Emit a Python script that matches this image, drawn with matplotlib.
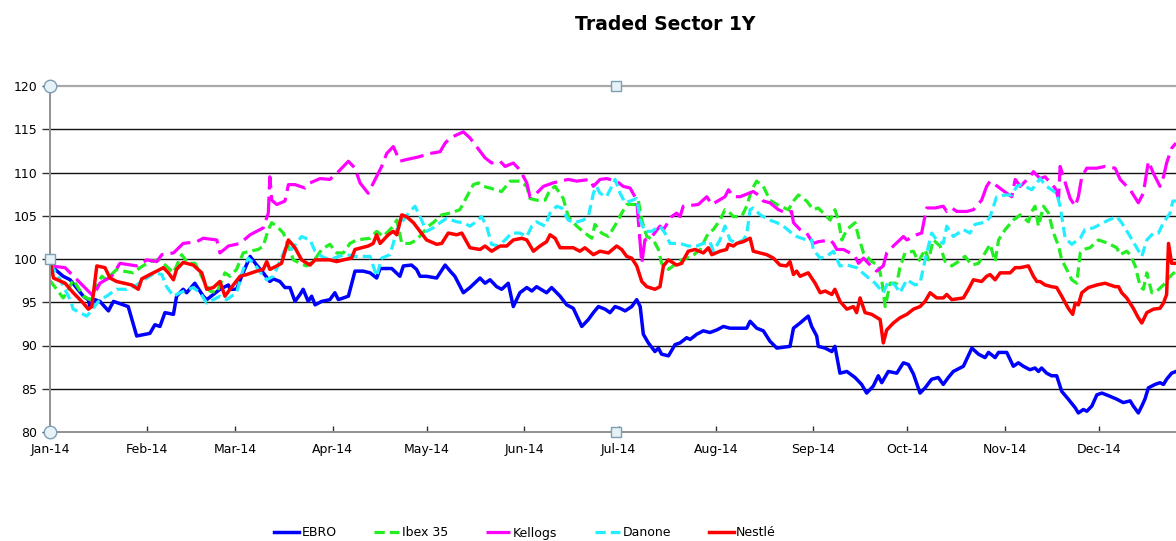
import datetime
import numpy as np
import matplotlib
matplotlib.use("Agg")
import matplotlib.pyplot as plt
import matplotlib.dates as mdates

title = "Traded Sector 1Y"
series_names = ["EBRO", "Ibex 35", "Kellogs", "Danone", "Nestlé"]

ebro_days = [0.0, 4.2, 6.4, 10.6, 12.2, 12.7, 14.3, 15.9, 18.6, 20.2, 21.8, 24.9, 27.6, 31.8, 33.4, 35.0, 36.6, 39.3, 40.3, 42.4, 43.5, 46.1, 48.8, 49.9, 54.1, 56.8,
             57.3, 59.4, 61.0, 63.7, 65.8, 67.9, 70.0, 71.1, 73.2, 74.8, 76.4, 78.0, 79.6, 80.6, 82.2, 83.3, 84.4, 86.5, 89.1, 90.7, 91.8, 95.0, 97.1, 99.7, 101.9, 104.0, 105.1, 108.8, 111.4, 112.5, 115.1, 116.7,
             117.8, 119.9, 123.1, 125.8, 127.4, 128.9, 131.6, 133.7, 136.9, 138.5, 140.1, 142.2, 143.8, 145.9, 147.5, 149.6, 151.8, 153.4, 154.9, 158.1, 159.7, 162.4, 164.5, 166.6, 169.3, 171.4, 173.0, 174.6, 176.7,
             178.3, 179.9, 181.5, 183.1, 185.2, 186.8, 187.9, 188.9, 190.5, 192.6, 193.7, 194.7, 196.9, 199.0, 200.6, 202.7, 203.8, 205.9, 208.0, 210.1, 212.3, 214.4, 216.5, 221.8, 222.9, 225.0, 227.1, 229.2, 231.4, 235.6, 236.7,
             238.8, 241.4, 242.5, 244.1, 244.6, 246.8, 248.9, 249.9, 251.5, 253.7, 256.3, 258.4, 260.0, 262.1, 263.7, 264.8, 266.9, 269.6, 271.7, 273.3, 274.9, 277.0, 278.6, 280.7, 282.8, 284.4, 286.0, 287.6, 290.8, 293.5, 295.6, 297.7, 298.8,
             300.9, 302.0, 304.6, 306.7, 308.3, 309.9, 312.0, 313.6, 314.7, 315.7, 317.3, 318.9, 320.5, 322.1, 324.2, 326.4, 327.4, 329.0, 330.1, 331.7, 333.3, 334.9, 337.0, 339.6, 341.7, 343.9, 344.9, 346.5, 347.6, 348.6, 349.7, 351.8, 353.4, 354.5, 355.5, 357.1, 358.5]
ebro_vals = [99.3, 98.0, 97.6, 95.7, 95.3, 94.5, 95.3, 95.1, 94.0, 95.1, 94.9, 94.5, 91.1, 91.4, 92.4, 92.2, 93.8, 93.6, 95.7, 96.5, 96.1, 97.2, 95.7, 95.3, 96.5, 97.0,
             96.5, 96.5, 98.0, 100.3, 99.3, 98.4, 97.4, 97.7, 97.4, 96.7, 96.7, 95.1, 95.9, 96.5, 95.1, 95.7, 94.7, 95.1, 95.3, 96.1, 95.3, 95.7, 98.6, 98.6, 98.4, 97.8, 98.9, 98.9, 98.0, 99.2, 99.3, 98.8,
             98.0, 98.0, 97.8, 99.3, 98.6, 98.0, 96.1, 96.7, 97.8, 97.2, 97.6, 96.8, 96.5, 97.2, 94.5, 96.1, 96.7, 96.3, 96.8, 96.1, 96.7, 95.7, 94.7, 94.3, 92.2, 93.0, 93.8, 94.5, 94.2,
             93.8, 94.5, 94.3, 94.0, 94.5, 95.3, 94.5, 91.3, 90.3, 89.3, 89.7, 89.0, 88.8, 90.1, 90.3, 90.9, 90.7, 91.3, 91.7, 91.5, 91.8, 92.2, 92.0, 92.0, 92.8, 92.0, 91.7, 90.5, 89.7, 89.9, 92.0,
             92.6, 93.4, 92.2, 91.1, 89.9, 89.7, 89.3, 89.9, 86.8, 87.0, 86.3, 85.5, 84.5, 85.3, 86.5, 85.7, 87.0, 86.8, 88.0, 87.8, 86.7, 84.5, 85.1, 86.1, 86.3, 85.5, 86.3, 87.0, 87.6, 89.7, 89.0, 88.6, 89.2,
             88.6, 89.2, 89.2, 87.6, 88.0, 87.6, 87.2, 87.4, 87.0, 87.4, 86.8, 86.5, 86.5, 84.7, 83.8, 82.8, 82.2, 82.6, 82.4, 83.0, 84.3, 84.5, 84.2, 83.8, 83.4, 83.6, 83.0, 82.2, 83.0, 83.8, 85.1, 85.5, 85.7, 85.5, 86.1, 86.8, 87.0]

ibex_days = [0.0, 4.2, 5.3, 7.4, 10.6, 12.7, 16.5, 18.0, 21.2, 23.4, 26.5, 28.7, 31.8, 34.5, 36.1, 39.3, 41.9, 44.0, 46.2, 48.8, 50.9, 53.1, 55.7,
             57.3, 59.4, 61.5, 63.7, 66.3, 67.9, 69.5, 70.6, 72.7, 74.3, 75.9, 77.5, 79.6, 81.7, 83.8, 86.5, 89.1, 91.3, 93.4, 95.5, 97.6, 101.9, 104.0, 106.1, 109.3, 110.4, 112.0, 114.6, 116.7,
             120.5, 122.0, 124.7, 127.4, 130.5, 132.7, 134.8, 136.4, 138.0, 140.1, 143.8, 146.5, 149.6, 151.8, 152.8, 154.9, 157.6, 159.2, 160.8, 163.4, 165.0, 167.7, 170.3, 172.5, 173.5, 175.6, 177.8,
             180.4, 182.0, 183.6, 186.3, 187.3, 188.4, 190.0, 192.1, 193.7, 194.7, 196.9, 199.5, 201.1, 204.3, 207.0, 209.6, 211.2, 213.3, 214.9, 216.0, 217.6, 220.2, 221.8, 223.4, 225.0, 227.1, 229.2, 232.4, 235.1, 236.7, 238.3,
             240.9, 243.0, 244.6, 246.2, 248.4, 249.9, 251.0, 252.1, 253.7, 256.3, 257.4, 259.0, 261.6, 263.7, 264.8, 265.9, 267.5, 269.6, 270.6, 272.2, 274.9, 276.5, 278.6, 279.7, 281.2, 283.4, 285.0, 287.1, 289.2, 291.3, 293.5, 295.6, 297.7, 299.3,
             300.9, 302.0, 304.1, 306.7, 308.9, 311.5, 312.6, 313.6, 314.7, 316.3, 317.9, 319.5, 321.1, 322.1, 323.7, 325.3, 326.9, 328.0, 329.0, 331.1, 333.8, 337.0, 339.6, 340.7, 342.8, 343.9, 345.5, 347.1, 348.1, 349.2, 350.8, 352.4, 354.5, 356.6, 358.5]
ibex_vals = [97.5, 95.5, 96.1, 97.6, 95.7, 95.3, 98.0, 97.6, 98.8, 98.6, 98.4, 99.0, 99.7, 99.9, 99.5, 98.4, 100.5, 99.5, 99.5, 97.6, 96.3, 96.1, 98.4,
             98.0, 98.8, 100.7, 100.9, 101.1, 101.5, 103.4, 104.2, 103.6, 103.0, 101.5, 99.9, 99.5, 99.2, 99.7, 101.1, 101.7, 100.7, 100.7, 101.8, 102.2, 102.4, 103.2, 102.6, 103.8, 104.5, 101.8, 101.8, 102.2,
             103.8, 104.2, 105.1, 105.3, 105.7, 107.2, 108.6, 108.8, 108.4, 108.2, 107.8, 109.0, 109.0, 108.4, 107.0, 106.8, 106.8, 108.0, 108.4, 107.0, 104.9, 103.8, 103.0, 102.4, 104.0, 103.0, 102.6,
             104.2, 105.3, 106.3, 106.3, 106.8, 104.5, 102.6, 102.2, 101.1, 99.5, 98.8, 99.5, 99.9, 100.3, 101.1, 103.0, 103.4, 104.5, 105.7, 105.5, 104.9, 104.9, 106.1, 108.0, 109.0, 108.4, 106.8, 106.1, 105.7, 106.7, 107.4,
             106.7, 105.7, 105.9, 105.3, 104.5, 105.7, 104.5, 102.2, 103.4, 104.2, 102.6, 100.7, 99.7, 99.3, 97.6, 94.5, 97.2, 97.2, 99.0, 100.7, 100.9, 99.7, 101.1, 99.9, 102.2, 101.5, 99.7, 99.2, 99.7, 100.3, 99.3, 99.5, 100.7, 101.7,
             99.7, 102.2, 103.4, 104.5, 105.1, 104.3, 105.5, 106.1, 103.8, 106.1, 105.3, 103.0, 101.5, 99.9, 98.8, 97.6, 97.2, 100.7, 101.1, 101.3, 102.2, 101.8, 101.3, 100.5, 100.9, 100.5, 99.2, 96.8, 96.5, 98.4, 96.1, 96.3, 97.0, 98.0, 98.6]

kellogs_days = [0.0, 4.8, 13.8, 15.9, 19.6, 22.3, 27.6, 30.8, 34.0, 35.6, 39.3, 42.4, 46.7, 48.8, 53.1, 54.1, 56.8,
                60.5, 63.7, 67.9, 69.5, 70.0, 70.6, 72.2, 74.8, 75.9, 78.0, 81.2, 82.8, 86.0, 89.1, 91.3, 95.0, 97.1, 98.7, 101.3, 103.5, 105.6, 107.2, 109.3, 111.4, 113.5, 117.3,
                121.0, 124.2, 125.8, 127.4, 131.6, 133.7, 135.8, 138.5, 140.6, 143.3, 144.9, 147.5, 149.6, 151.8, 152.8, 154.9, 157.1, 160.2, 162.4, 165.0, 167.7, 171.9, 173.0, 175.1, 177.2,
                180.4, 182.5, 184.7, 186.8, 188.4, 189.4, 191.6, 194.2, 195.3, 197.9, 199.5, 200.6, 201.6, 206.4, 209.1, 210.7, 214.9, 216.0, 217.6, 219.7, 223.9, 225.5, 227.1, 229.2, 231.9, 234.5, 236.1, 236.7,
                238.8, 240.9, 243.0, 244.6, 248.4, 249.4, 250.5, 252.6, 254.7, 256.3, 257.4, 259.0, 261.1, 263.2, 265.3, 266.4, 268.5, 271.7, 272.8, 275.9, 277.5, 279.1, 281.8, 284.4, 285.5, 287.1, 288.7, 291.9, 294.0, 296.6, 298.2,
                299.3, 300.9, 304.6, 306.2, 307.3, 308.9, 312.0, 313.1, 315.2, 316.8, 320.0, 321.1, 321.6, 324.8, 326.4, 327.4, 328.5, 330.1, 333.3, 335.9, 339.1, 340.7, 343.9, 346.5, 348.1, 349.7, 351.3, 353.4, 354.5, 355.5, 357.1, 358.5]
kellogs_vals = [99.2, 99.0, 95.7, 97.2, 98.0, 99.5, 99.2, 99.9, 99.7, 100.5, 100.7, 101.8, 102.0, 102.4, 102.2, 100.7, 101.5,
                101.8, 102.8, 103.6, 105.3, 109.5, 106.8, 106.3, 106.7, 108.6, 108.6, 108.2, 108.8, 109.3, 109.2, 109.9, 111.3, 110.5, 108.8, 107.6, 109.2, 110.7, 112.2, 113.0, 111.3, 111.5, 111.8,
                112.2, 112.4, 113.4, 114.0, 114.7, 114.0, 113.0, 111.7, 111.1, 111.3, 110.7, 111.1, 110.3, 108.8, 107.2, 107.6, 108.4, 108.8, 109.0, 109.2, 109.0, 109.2, 108.4, 109.2, 109.3,
                109.0, 108.4, 108.2, 106.8, 99.5, 102.2, 102.6, 103.8, 103.4, 104.9, 105.3, 104.9, 106.1, 106.3, 107.2, 106.3, 107.2, 108.0, 107.2, 107.2, 107.8, 107.4, 106.7, 106.5, 105.7, 105.3, 105.5, 104.2,
                103.4, 103.0, 101.8, 102.0, 102.2, 101.8, 101.1, 101.1, 100.7, 100.3, 99.5, 100.1, 99.3, 98.6, 99.2, 100.7, 101.5, 102.6, 102.2, 102.8, 103.0, 105.9, 105.9, 106.1, 105.5, 105.9, 105.5, 105.5, 105.7, 106.8, 108.4,
                109.0, 108.6, 107.6, 107.2, 109.2, 108.4, 109.5, 110.1, 109.3, 109.5, 108.2, 107.0, 110.7, 107.0, 106.1, 107.2, 109.5, 110.5, 110.5, 110.7, 110.5, 109.2, 108.0, 106.5, 107.6, 111.3, 109.9, 108.4, 109.5, 111.1, 112.8, 113.4]

danone_days = [0.0, 3.2, 6.4, 7.4, 11.7, 12.7, 15.4, 18.0, 21.2, 24.4, 27.6, 30.8, 33.4, 35.6, 37.1, 39.3, 41.4, 45.6, 47.8, 49.9, 52.0, 54.1, 56.2,
               59.4, 61.5, 63.1, 65.3, 67.9, 69.0, 71.1, 75.3, 76.9, 80.1, 82.8, 84.4, 86.5, 89.1, 91.8, 94.4, 97.1, 101.9, 104.0, 105.6, 108.2, 109.3, 110.4, 112.5, 114.6, 116.2, 117.3,
               119.9, 122.0, 124.2, 126.3, 129.5, 131.6, 133.7, 135.3, 137.4, 139.0, 140.6, 142.7, 144.9, 147.0, 149.6, 151.8, 153.4, 154.9, 157.6, 159.2, 161.3, 162.9, 165.0, 167.1, 169.8, 171.4, 173.0, 174.0, 175.1, 177.2,
               178.3, 179.9, 181.5, 183.1, 184.7, 186.8, 187.9, 189.4, 191.6, 193.2, 194.2, 195.8, 197.4, 200.6, 203.2, 205.9, 208.0, 210.1, 211.2, 213.3, 214.9, 216.5, 218.6, 220.7, 221.8, 222.9, 223.9, 226.1, 229.2, 231.4, 233.5, 236.1, 237.7,
               240.9, 242.5, 243.0, 245.2, 247.3, 249.4, 251.5, 253.7, 256.8, 260.0, 262.7, 265.3, 266.9, 269.0, 270.6, 272.8, 275.4, 277.0, 278.6, 280.7, 282.3, 284.4, 285.5, 287.6, 290.8, 292.9, 294.5, 298.2,
               299.3, 301.4, 304.1, 306.2, 307.8, 309.4, 312.6, 315.2, 317.3, 320.5, 321.6, 323.2, 325.3, 328.0, 329.5, 332.2, 334.3, 337.0, 339.6, 341.2, 343.9, 346.0, 347.6, 349.2, 351.3, 352.9, 354.5, 356.6, 357.5, 358.5]
danone_vals = [99.5, 97.6, 95.3, 94.2, 93.4, 93.8, 95.1, 95.7, 96.5, 96.5, 97.0, 97.8, 98.4, 98.2, 96.8, 95.7, 96.1, 96.7, 96.1, 94.9, 95.3, 95.7, 95.3,
               96.1, 98.8, 100.1, 99.3, 98.0, 97.6, 98.0, 101.5, 101.1, 102.6, 102.2, 100.9, 100.3, 99.9, 100.3, 100.5, 100.3, 100.3, 98.0, 100.1, 100.5, 101.8, 103.4, 104.5, 105.5, 106.1, 105.3,
               103.2, 103.6, 104.2, 104.7, 104.3, 104.2, 103.8, 104.2, 104.9, 103.8, 101.7, 101.5, 102.2, 103.0, 103.0, 102.6, 103.8, 104.3, 103.8, 105.3, 106.1, 105.9, 104.5, 104.2, 104.5, 104.9, 107.6, 108.4, 107.6, 107.2,
               108.0, 109.2, 107.6, 106.5, 106.7, 107.0, 104.5, 103.2, 103.2, 103.6, 103.8, 103.0, 101.8, 101.8, 101.5, 101.5, 101.8, 102.0, 100.9, 102.2, 103.8, 102.2, 101.8, 102.2, 102.8, 105.7, 105.9, 105.1, 104.5, 104.2, 103.8, 103.0, 102.6,
               102.2, 102.2, 101.1, 100.1, 100.3, 100.9, 99.2, 99.3, 99.0, 98.0, 97.2, 96.1, 97.4, 97.0, 96.1, 97.6, 97.0, 97.2, 99.9, 103.0, 102.2, 101.8, 103.8, 102.6, 103.4, 103.0, 104.0, 104.3,
               104.9, 107.2, 107.4, 107.4, 108.4, 108.6, 108.0, 109.3, 108.4, 107.6, 106.1, 102.4, 101.7, 102.4, 103.4, 103.6, 104.0, 104.5, 104.9, 104.2, 102.6, 101.3, 100.3, 102.2, 103.0, 103.0, 104.2, 105.3, 106.7, 106.7]

nestle_days = [0.0, 1.1, 4.8, 7.4, 10.6, 12.2, 13.3, 14.9, 17.5, 19.1, 21.2, 26.0, 28.1, 29.2, 31.8, 34.0, 36.1, 37.7, 39.3, 40.3, 42.4, 45.6, 48.3, 49.9, 52.0, 54.1, 55.7, 57.3,
               60.5, 62.6, 65.8, 67.9, 69.0, 70.0, 72.2, 73.7, 75.9, 78.0, 80.1, 82.8, 84.4, 89.1, 91.3, 93.4, 96.0, 97.1, 99.2, 101.3, 102.9, 104.0, 105.1, 107.7, 109.3, 110.4, 112.0, 113.5, 115.7,
               117.8, 119.9, 123.1, 124.7, 126.8, 129.5, 131.1, 133.7, 136.9, 138.5, 140.6, 143.3, 145.4, 147.5, 150.2, 151.8, 153.9, 156.0, 158.1, 159.2, 160.8, 162.4, 166.6, 168.7, 170.3, 173.0, 175.1, 177.8,
               180.4, 182.0, 183.6, 185.2, 186.8, 188.4, 190.0, 192.6, 194.2, 195.3, 196.9, 199.5, 201.1, 203.2, 205.4, 208.0, 209.6, 210.7, 213.3, 215.4, 216.0, 217.6, 218.6, 220.7, 222.9, 223.9, 226.1, 228.2, 230.3, 232.4, 234.5, 235.6, 236.7, 237.7,
               238.8, 241.4, 243.6, 245.2, 246.8, 248.9, 249.9, 251.5, 253.7, 255.8, 256.8, 257.9, 259.5, 261.6, 264.3, 265.3, 266.4, 268.5, 270.6, 272.8, 274.9, 277.0, 278.6, 280.2, 282.3, 284.4, 285.5, 287.1, 290.8, 292.4, 294.0, 296.6, 298.2,
               299.3, 300.9, 302.5, 305.7, 307.3, 308.9, 311.5, 313.1, 314.2, 315.2, 316.8, 318.9, 320.5, 322.1, 324.2, 325.6, 326.4, 327.4, 328.5, 330.6, 333.3, 335.9, 339.1, 340.2, 341.2, 342.8, 344.9, 346.5, 347.6, 349.2, 351.3, 353.4, 354.5, 355.5, 356.1, 357.1, 358.5]
nestle_vals = [100.0, 97.8, 97.2, 96.1, 94.9, 94.2, 94.5, 99.2, 99.0, 97.8, 97.4, 97.0, 96.5, 97.7, 98.2, 98.6, 99.0, 98.4, 97.6, 98.8, 99.6, 99.3, 98.4, 96.5, 96.7, 97.4, 95.7, 96.5,
               98.0, 98.2, 98.6, 98.8, 99.7, 98.8, 99.2, 99.5, 102.2, 101.3, 99.9, 99.3, 99.9, 99.9, 99.7, 99.9, 100.1, 101.1, 101.3, 101.5, 101.8, 102.8, 101.8, 102.8, 103.2, 102.8, 105.1, 104.9, 104.2,
               103.2, 102.2, 101.7, 101.8, 103.0, 102.8, 103.0, 101.3, 101.1, 101.5, 100.9, 101.5, 101.5, 102.2, 102.4, 102.2, 100.9, 101.5, 102.0, 102.8, 102.4, 101.3, 101.3, 100.9, 101.3, 100.5, 100.9, 100.7,
               101.5, 101.1, 100.3, 100.1, 99.2, 97.4, 96.8, 96.5, 96.8, 99.2, 99.9, 99.3, 99.5, 100.9, 101.1, 100.7, 101.3, 100.5, 100.9, 101.1, 101.7, 101.5, 101.8, 102.0, 102.4, 100.9, 100.7, 100.5, 100.1, 99.3, 99.2, 99.7, 98.2, 98.6,
               98.0, 98.4, 97.2, 96.1, 96.3, 95.9, 96.5, 95.1, 94.2, 94.5, 93.8, 95.5, 93.8, 93.6, 93.0, 90.3, 91.8, 92.6, 93.2, 93.6, 94.2, 94.5, 95.1, 96.1, 95.5, 95.5, 95.9, 95.3, 95.5, 96.5, 97.6, 97.4, 98.0,
               98.2, 97.6, 98.4, 98.4, 99.0, 99.0, 99.2, 98.0, 97.4, 97.4, 97.0, 96.8, 96.7, 95.7, 94.3, 93.6, 94.9, 94.7, 96.1, 96.7, 97.0, 97.2, 96.8, 96.8, 96.1, 95.5, 94.3, 93.2, 92.6, 93.8, 94.2, 94.3, 94.9, 95.9, 101.8, 99.5, 99.5]

y_ticks = [80, 85, 90, 95, 100, 105, 110, 115, 120]

base = mdates.date2num(datetime.date(2014, 1, 1))

fig = plt.figure(figsize=(11.76, 5.41), dpi=100)
# plot area: x 50..1182 px, y 86..432 px
ax = fig.add_axes([50 / 1176, 1 - 432 / 541, 1132 / 1176, 346 / 541])

styles = [
    dict(color="#0000ff", lw=2.5, ls="-"),
    dict(color="#22ee22", lw=2.3, ls=(0, (3.2, 1.6))),
    dict(color="#ff00ff", lw=2.3, ls=(0, (7.5, 2.2))),
    dict(color="#22eeff", lw=2.3, ls=(0, (3.2, 1.6))),
    dict(color="#ff0000", lw=2.5, ls="-"),
]
data = [(ebro_days, ebro_vals), (ibex_days, ibex_vals), (kellogs_days, kellogs_vals),
        (danone_days, danone_vals), (nestle_days, nestle_vals)]

for name, (d, v), st in zip(series_names, data, styles):
    ax.plot(base + np.array(d), v, label=name, solid_joinstyle="round",
            dash_capstyle="butt", **st)

ax.set_ylim(80, 120)
ax.set_xlim(base, base + 360.4)
ax.set_yticks(y_ticks)
for yv in y_ticks[1:-1]:
    ax.axhline(yv, color="#111111", lw=1.0, zorder=0)

ax.xaxis.set_major_locator(mdates.MonthLocator())
ax.xaxis.set_major_formatter(mdates.DateFormatter("%b-%y"))

ax.spines["right"].set_visible(False)
ax.spines["top"].set_color("#a8a8a8")
ax.spines["top"].set_linewidth(1.6)
ax.spines["left"].set_color("#909090")
ax.spines["left"].set_linewidth(1.4)
ax.spines["bottom"].set_color("#909090")
ax.spines["bottom"].set_linewidth(1.4)

ax.tick_params(axis="y", direction="out", length=6, width=1, color="#333333",
               labelsize=9, pad=3)
ax.tick_params(axis="x", direction="in", length=4, width=1, color="#333333",
               labelsize=9, pad=8)

# selection handles (Excel UI)
hkw = dict(transform=ax.transAxes, clip_on=False, mfc="#e6f2f7", mec="#7e9fb3", mew=1.0, zorder=10, ls="none")
ax.plot([0, 0], [0, 1], marker="o", ms=9, **hkw)
ax.plot([0, 0.5, 0.5], [0.5, 0, 1], marker="s", ms=7, **hkw)

fig.text(665 / 1176, 1 - 25 / 541, title, ha="center", va="center",
         fontsize=13.5, fontweight="bold")

leg = fig.legend(loc="center", bbox_to_anchor=(525 / 1176, 1 - 533 / 541), ncol=5,
                 frameon=False, fontsize=9, handlelength=2.0, columnspacing=3.0,
                 handletextpad=0.2)

fig.savefig("out.png", dpi=100)
